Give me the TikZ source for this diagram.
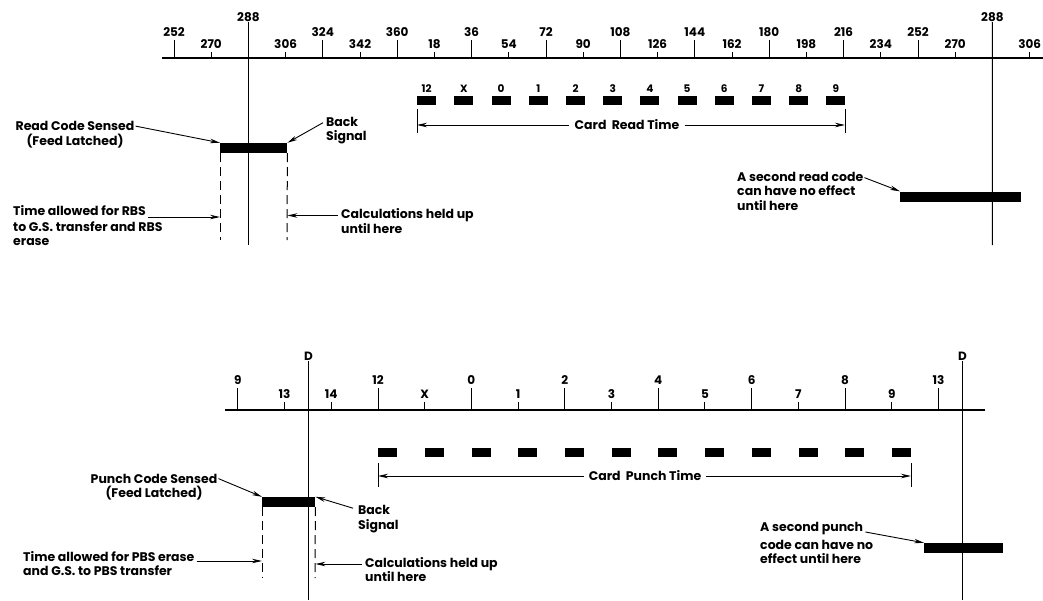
\documentclass[tikz,border=0pt]{standalone}
\usepackage{fontspec}
\setmainfont{Poppins}
\usetikzlibrary{arrows.meta, positioning, calc}
\tikzset{
  texte/.style={font=\fontsize{12.5}{14.5}\selectfont\bfseries, inner sep=0pt, align=left},
  chiffre/.style={font=\fontsize{12}{14}\selectfont\bfseries, inner sep=0pt},
  petit/.style={font=\fontsize{10.5}{12}\selectfont\bfseries, inner sep=0pt},
  regle/.style={line width=1.3pt},
  graduation/.style={line width=1pt},
  repere/.style={line width=1.1pt},
  impulsion/.style={rectangle, fill=black, inner sep=0pt, minimum width=19pt,
    minimum height=9pt, anchor=west},
  verrou/.style={rectangle, fill=black, inner sep=0pt, minimum height=10pt, anchor=west},
  guide/.style={line width=1pt, dash pattern=on 9pt off 5pt},
  fleche/.style={-{Stealth[length=10pt,width=4.5pt]}, line width=0.9pt},
  borne/.style={line width=0.9pt}
}

\begin{document}
\begin{tikzpicture}[x=1pt, y=-1pt]
  \useasboundingbox (0,0) rectangle (1043,600);

  % lecture : echelle en degres
  \draw[regle] (162,58) -- (1043,58);
  \foreach \lab/\haut [count=\i from 0] in {252/18,270/6,288/33,306/6,324/18,342/6,360/18,
      18/6,36/18,54/6,72/18,90/6,108/18,126/6,144/18,162/6,180/18,198/6,216/18,234/6,
      252/18,270/6,288/33,306/6}{
    \draw[graduation] ({174+37.2*\i},58) -- ++(0,-\haut);
    \node[chiffre, anchor=south] (lu-\i) at ({174+37.2*\i},{58-\haut-3}) {\lab};
  }
  \coordinate (pied-a) at (248.4,245);
  \coordinate (pied-b) at (992.4,245);
  \draw[repere] (lu-2.south) -- (pied-a);
  \draw[repere] (lu-22.south) -- (pied-b);

  % impulsions de lecture
  \foreach \lab [count=\k from 0] in {12,X,0,1,2,3,4,5,6,7,8,9}{
    \node[impulsion] (pl-\k) at ({417+37.2*\k},100.5) {};
    \node[petit, above=3pt of pl-\k] (cl-\k) {\lab};
  }
  \coordinate (lect-deb) at (417,125);
  \coordinate (lect-fin) at (845,125);
  \draw[borne] (lect-deb) ++(0,-16) -- ++(0,24);
  \draw[borne] (lect-fin) ++(0,-16) -- ++(0,24);
  \node[texte, fill=white, inner sep=5pt] (lect) at (627,125) {Card\ \ Read Time};
  \draw[fleche] (lect) -- (lect-deb);
  \draw[fleche] (lect) -- (lect-fin);

  % code de lecture
  \node[verrou, minimum width=67pt] (verrou-l) at (220,148) {};
  \coordinate (gl-g) at (220,240);
  \coordinate (gl-d) at (287,240);
  \draw[guide] (verrou-l.south west) -- (gl-g);
  \draw[guide] (verrou-l.south east) -- (gl-d);
  \node[texte, align=center] (sens-l) at (75,134.5) {Read Code Sensed\\(Feed Latched)};
  \draw[fleche] ([xshift=1pt,yshift=-5pt]sens-l.north east) -- (verrou-l.north west);
  \node[texte, anchor=west] (back-l) at (326,130.5) {Back\\Signal};
  \draw[fleche] ([xshift=-3pt,yshift=-6pt]back-l.north west) -- (verrou-l.north east);
  \node[texte, anchor=north west] (rbs-1) at (13,205.5) {Time allowed for RBS};
  \node[texte, below right=5pt and 0pt of rbs-1.south west] (rbs-2) {to G.S. transfer and RBS\\erase};
  \draw[fleche] ([xshift=2pt,yshift=-1pt]rbs-1.south east) -- ([yshift=-1pt]rbs-1.south -| verrou-l.west);
  \node[texte, anchor=west] (calc-l) at (341,221) {Calculations held up\\until here};
  \draw[fleche] ([xshift=-3pt,yshift=-7pt]calc-l.north west) -- ([yshift=-7pt]calc-l.north -| verrou-l.east);
  \node[verrou, minimum width=121pt] (verrou-l2) at (900,196.5) {};
  \node[texte, anchor=west] (second-l) at (737,191) {A second read code\\can have no effect\\until here};
  \draw[fleche] ([xshift=1pt,yshift=-6pt]second-l.north east) -- (verrou-l2.north west);

  % perforation : echelle en positions
  \draw[regle] (225,410) -- (985,410);
  \foreach \lab/\p/\haut [count=\i] in {9/-3/22,13/-2/8,14/-1/8,12/0/22,X/1/8,0/2/22,1/3/8,
      2/4/22,3/5/8,4/6/22,5/7/8,6/8/22,7/9/8,8/10/22,9/11/8,13/12/22}{
    \draw[graduation] ({378+46.7*\p},410) -- ++(0,-\haut);
    \node[chiffre, anchor=south] (pu-\i) at ({378+46.7*\p},{410-\haut-3}) {\lab};
  }
  \node[chiffre, anchor=south] (d-g) at (308.5,361) {D};
  \node[chiffre, anchor=south] (d-d) at (962.5,361) {D};
  \coordinate (pied-c) at (308.5,600);
  \coordinate (pied-d) at (962.5,600);
  \draw[repere] (d-g) -- (pied-c);
  \draw[repere] (d-d) -- (pied-d);

  % impulsions de perforation
  \foreach \k in {0,...,11}{
    \node[impulsion] (pp-\k) at ({378+46.7*\k},452.5) {};
  }
  \coordinate (perf-deb) at (378,476);
  \coordinate (perf-fin) at (911,476);
  \draw[borne] (perf-deb) ++(0,-13) -- ++(0,24);
  \draw[borne] (perf-fin) ++(0,-13) -- ++(0,24);
  \node[texte, fill=white, inner sep=5pt] (perf) at (645,476) {Card\ \ Punch Time};
  \draw[fleche] (perf) -- (perf-deb);
  \draw[fleche] (perf) -- (perf-fin);

  % code de perforation
  \node[verrou, minimum width=53pt] (verrou-p) at (262,502) {};
  \coordinate (gp-g) at (262,578);
  \coordinate (gp-d) at (315,578);
  \draw[guide] (verrou-p.south west) -- (gp-g);
  \draw[guide] (verrou-p.south east) -- (gp-d);
  \node[texte, align=center] (sens-p) at (154,487) {Punch Code Sensed\\(Feed Latched)};
  \draw[fleche] ([xshift=1pt,yshift=-5pt]sens-p.north east) -- (verrou-p.north west);
  \node[texte, anchor=west] (back-p) at (358,519) {Back\\Signal};
  \draw[fleche] ([xshift=-5pt,yshift=-3pt]back-p.north west) -- (verrou-p.north east);
  \node[texte, anchor=west] (pbs) at (23,563.5) {Time allowed for PBS erase\\and G.S. to PBS transfer};
  \draw[fleche] ([xshift=2pt,yshift=-10pt]pbs.north east) -- ([yshift=-10pt]pbs.north -| verrou-p.west);
  \node[texte, anchor=west] (calc-p) at (365,569.5) {Calculations held up\\until here};
  \draw[fleche] ([xshift=-3pt,yshift=-7pt]calc-p.north west) -- ([yshift=-7pt]calc-p.north -| verrou-p.east);
  \node[verrou, minimum width=79pt] (verrou-p2) at (924,548) {};
  \node[texte, anchor=north west] (second-p-1) at (760,522) {A second punch};
  \node[texte, below right=5pt and 0pt of second-p-1.south west] (second-p-2) {code can have no\\effect until here};
  \draw[fleche] ([xshift=2pt,yshift=3pt]second-p-1.south east) -- (verrou-p2.north west);
\end{tikzpicture}
\end{document}
